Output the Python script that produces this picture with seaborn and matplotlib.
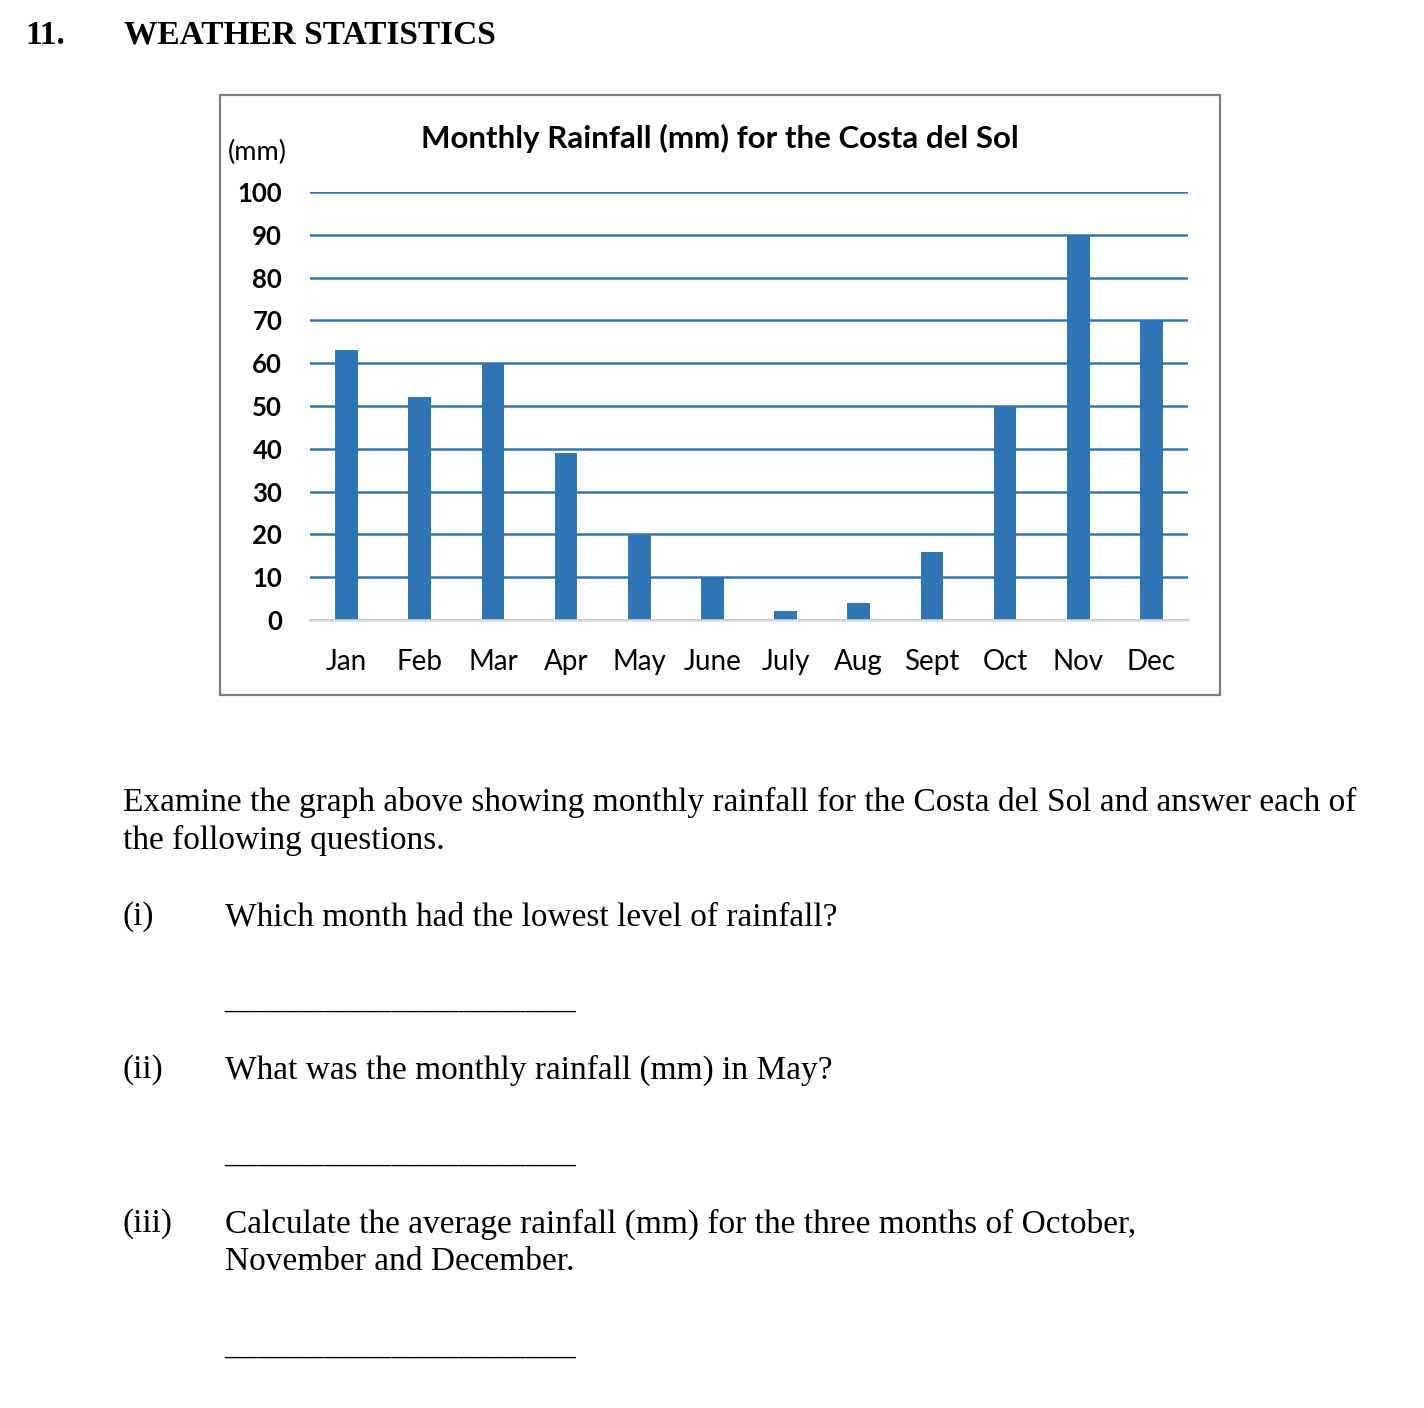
import matplotlib
matplotlib.use("Agg")
import matplotlib.pyplot as plt
import seaborn as sns
import pandas as pd
from matplotlib.patches import Rectangle

# data
months = ['Jan', 'Feb', 'Mar', 'Apr', 'May', 'June',
          'July', 'Aug', 'Sept', 'Oct', 'Nov', 'Dec']
rainfall = [63, 52, 60, 39, 20, 10, 2, 4, 16, 50, 90, 70]
y_ticks = [0, 10, 20, 30, 40, 50, 60, 70, 80, 90, 100]

questions = [
    ("(i)", ["Which month had the lowest level of rainfall?"]),
    ("(ii)", ["What was the monthly rainfall (mm) in May?"]),
    ("(iii)", ["Calculate the average rainfall (mm) for the three months of October,",
               "November and December."]),
]

BLUE = '#2E75B6'
W, H = 1424, 1408

sns.set_theme(style="white")
plt.rcParams['font.family'] = ['Lato', 'DejaVu Sans']
plt.rcParams['text.color'] = 'black'

fig = plt.figure(figsize=(W / 100, H / 100), dpi=100)


def fx(px):
    return px / W


def fy(py):
    return 1 - py / H


# chart frame
fig.patches.append(Rectangle((fx(220), fy(695)), fx(1220) - fx(220), fy(95) - fy(695),
                             transform=fig.transFigure, fill=False,
                             edgecolor='#7F7F7F', linewidth=1.6, zorder=0))

ax = fig.add_axes([fx(310), fy(620), fx(1188) - fx(310), fy(192) - fy(620)])
df = pd.DataFrame({'month': months, 'rain': rainfall})
sns.barplot(data=df, x='month', y='rain', color=BLUE, saturation=1,
            width=0.31, ax=ax, zorder=3, linewidth=0)

ax.set_xlim(-0.5, len(months) - 0.5)
ax.set_ylim(0, 100)
ax.set_yticks(y_ticks)
ax.set_yticklabels([str(t) for t in y_ticks], fontweight='bold', fontsize=18.5)
ax.set_xlabel('')
ax.set_ylabel('')
ax.tick_params(axis='y', length=0, pad=20, labelcolor='black')
ax.tick_params(axis='x', length=0, pad=21, labelsize=20, labelcolor='black')
ax.yaxis.grid(True, color=BLUE, linewidth=1.8)
ax.set_axisbelow(True)
for s in ['left', 'right', 'top']:
    ax.spines[s].set_visible(False)
ax.spines['bottom'].set_color('#D9D9D9')
ax.spines['bottom'].set_linewidth(1.8)
ax.spines['bottom'].set_zorder(4)

fig.text(fx(720), fy(138), 'Monthly Rainfall (mm) for the Costa del Sol',
         ha='center', va='center', fontsize=22.5, fontweight='bold', color='black')
fig.text(fx(228), fy(152), '(mm)', ha='left', va='center', fontsize=19.5, color='black')

# page text
serif = ['Liberation Serif', 'DejaVu Serif']
fs = 24
fig.text(fx(25), fy(35), '11.', ha='left', va='center', fontsize=fs,
         fontweight='bold', family=serif, color='black')
fig.text(fx(124), fy(35), 'WEATHER STATISTICS', ha='left', va='center', fontsize=fs,
         fontweight='bold', family=serif, color='black')
fig.text(fx(123), fy(802), 'Examine the graph above showing monthly rainfall for the '
         'Costa del Sol and answer each of', ha='left', va='center', fontsize=fs,
         family=serif, color='black')
fig.text(fx(123), fy(840), 'the following questions.', ha='left', va='center',
         fontsize=fs, family=serif, color='black')

q_y = [917, 1070, 1224]
blank_y = [1000, 1153, 1345]
for (num, lines), qy, by in zip(questions, q_y, blank_y):
    fig.text(fx(123), fy(qy), num, ha='left', va='center', fontsize=fs,
             family=serif, color='black')
    for i, line in enumerate(lines):
        fig.text(fx(225), fy(qy + 38 * i), line, ha='left', va='center',
                 fontsize=fs, family=serif, color='black')
    fig.text(fx(224), fy(by), '_' * 21, ha='left', va='center', fontsize=fs,
             family=serif, color='black')

fig.savefig('out.png', dpi=100)
